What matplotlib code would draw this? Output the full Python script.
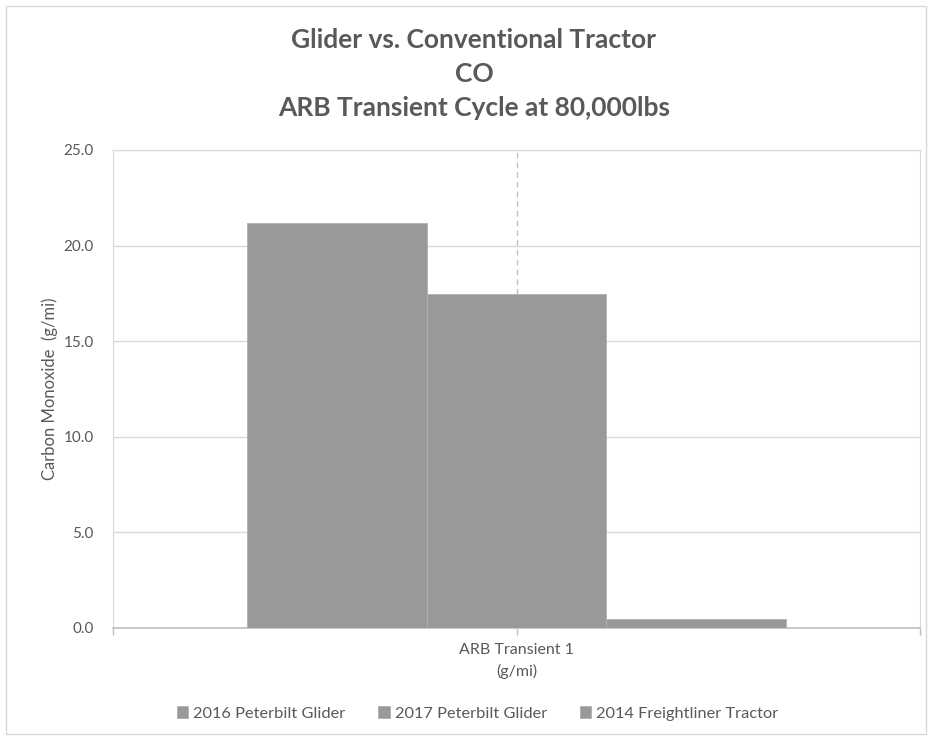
"""Glider vs conventional tractor CO emissions, ARB transient cycle."""

import matplotlib.pyplot as plt
from matplotlib.patches import Rectangle

series = ["2016 Peterbilt Glider", "2017 Peterbilt Glider", "2014 Freightliner Tractor"]
values = [21.2, 17.45, 0.47]
category = "ARB Transient 1\n(g/mi)"
y_ticks = [0, 5, 10, 15, 20, 25]

TEXT = "#595959"
GRID = "#d9d9d9"
BAR = "#999999"

plt.rcParams["font.family"] = ["Lato", "DejaVu Sans"]

fig = plt.figure(figsize=(9.33, 7.40), dpi=100)
ax = fig.add_axes([0.1211, 0.1514, 0.865, 0.6459])

width = 0.223
offsets = [-width, 0, width]
for name, val, off in zip(series, values, offsets):
    ax.bar(off, val, width=width, color=BAR, edgecolor="#b0b0b0", linewidth=0.6,
           label=name, zorder=3)

# dashed line above the middle bar
ax.vlines(offsets[1], values[1], 26, colors="#bfbfbf", linestyles=(0, (4, 3)),
          linewidth=1.0, zorder=2, clip_on=True)

ax.set_xlim(-0.5, 0.5)
ax.set_ylim(0, 25)
ax.set_yticks(y_ticks)
ax.set_yticklabels([f"{v:.1f}" for v in y_ticks])
ax.yaxis.grid(True, color=GRID, linewidth=1.0, zorder=0)
ax.set_axisbelow(True)

ax.set_xticks([-0.5, 0.5], minor=False)
ax.set_xticklabels(["", ""])
ax.set_xticks([0], minor=True)
ax.set_xticklabels([category], minor=True)
ax.tick_params(axis="x", which="both", length=5, color="#bfbfbf", width=1,
               labelsize=11.5, labelcolor=TEXT, pad=6)
ax.tick_params(axis="y", length=0, labelsize=11, labelcolor=TEXT, pad=14)
for lab in ax.get_xticklabels(minor=True):
    lab.set_linespacing(1.55)

for side in ["left", "right", "top"]:
    ax.spines[side].set_color(GRID)
ax.spines["bottom"].set_color("#bfbfbf")
ax.spines["bottom"].set_linewidth(1.2)

ax.set_ylabel("Carbon Monoxide  (g/mi)", color=TEXT, fontsize=12, labelpad=4)

fig.text(0.508, 0.946, "Glider vs. Conventional Tractor", ha="center", va="center",
         fontsize=19, fontweight="bold", color=TEXT)
fig.text(0.508, 0.900, "CO", ha="center", va="center",
         fontsize=19, fontweight="bold", color=TEXT)
fig.text(0.508, 0.854, "ARB Transient Cycle at 80,000lbs", ha="center", va="center",
         fontsize=19, fontweight="bold", color=TEXT)

fig.legend(loc="center", bbox_to_anchor=(0.512, 0.036), ncol=3, frameon=False,
           fontsize=11.8, labelcolor=TEXT, handlelength=0.7, handleheight=0.7,
           handletextpad=0.3, columnspacing=2.0)

fig.patches.append(Rectangle((0.006, 0.008), 0.986, 0.984, transform=fig.transFigure,
                             fill=False, edgecolor=GRID, linewidth=1.0))

fig.savefig("out.png", dpi=100)
